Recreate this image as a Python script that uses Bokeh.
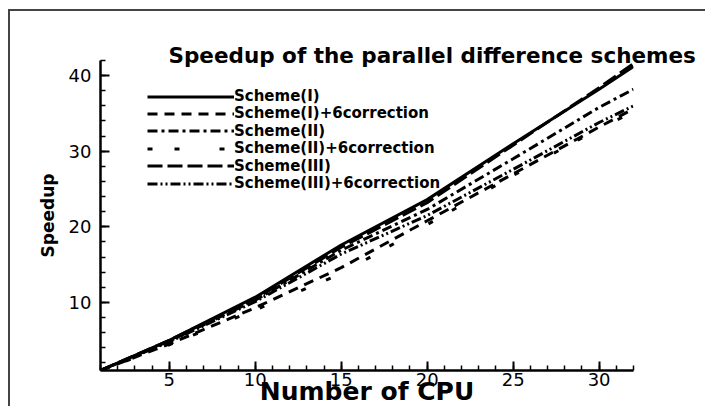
from bokeh.plotting import figure
from bokeh.models import (Range1d, Legend, LegendItem, FixedTicker)
from bokeh.embed import file_html
from bokeh.resources import INLINE

# ---- data ----
cpus = [1, 5, 10, 15, 20, 25, 30, 32]
scheme_I = [1, 5.0, 10.7, 17.6, 23.6, 31.0, 38.2, 41.2]
scheme_I_corr = [1, 4.5, 9.3, 14.6, 20.8, 27.0, 33.2, 35.6]
scheme_II = [1, 4.9, 10.3, 16.9, 22.3, 29.0, 35.8, 38.2]
scheme_II_corr = [1, 4.4, 9.0, 13.8, 20.3, 26.8, 33.0, 35.2]
scheme_III = [1, 5.0, 10.5, 17.3, 23.2, 30.8, 38.4, 41.6]
scheme_III_corr = [1, 4.8, 10.1, 16.4, 21.5, 27.6, 33.8, 36.0]

series_names = ["Scheme(I)", "Scheme(I)+6correction", "Scheme(II)",
                "Scheme(II)+6correction", "Scheme(III)", "Scheme(III)+6correction"]
series_values = [scheme_I, scheme_I_corr, scheme_II, scheme_II_corr,
                 scheme_III, scheme_III_corr]
dashes = ["solid", "10 7", "10 4 3 4", "5 22 5 40", "15 5", "10 3 2 3 2 3"]

x_ticks = [5, 10, 15, 20, 25, 30]
y_ticks = [10, 20, 30, 40]

p = figure(width=697, height=397, output_backend="svg", toolbar_location=None,
           x_range=Range1d(1, 32), y_range=Range1d(1, 42),
           min_border_left=90, min_border_right=74, min_border_top=49,
           min_border_bottom=30,
           title="Speedup of the parallel difference schemes")
p.styles = {"border-top": "2px solid #444", "border-left": "2px solid #444",
            "margin-top": "9px", "margin-left": "8px"}
p.outline_line_color = None
p.xgrid.grid_line_color = None
p.ygrid.grid_line_color = None
p.background_fill_color = "white"

p.title.text_font = "DejaVu Sans"
p.title.text_font_style = "bold"
p.title.text_font_size = "21.5px"
p.title.text_color = "black"
p.title.align = "left"
p.title.offset = 68
p.title.standoff = -15

renderers = []
for vals, dash in zip(series_values, dashes):
    r = p.line(cpus, vals, line_color="black", line_width=3, line_dash=dash)
    renderers.append(r)

# one single-row legend per series, rows ~17px apart
for i, (n, r) in enumerate(zip(series_names, renderers)):
    lg = Legend(items=[LegendItem(label=n, renderers=[r])],
                location=(47, 265 - 17.4 * i), glyph_width=87, glyph_height=15,
                label_height=15, spacing=0, padding=0, margin=0, label_standoff=0,
                border_line_color=None, background_fill_alpha=0,
                label_text_font="DejaVu Sans", label_text_font_style="bold",
                label_text_font_size="15px", label_text_color="black")
    p.add_layout(lg)

for ax in (p.xaxis[0], p.yaxis[0]):
    ax.axis_line_width = 2.5
    ax.axis_line_color = "black"
    ax.major_tick_in = 9
    ax.major_tick_out = 0
    ax.minor_tick_in = 5
    ax.minor_tick_out = 0
    ax.major_tick_line_width = 2
    ax.minor_tick_line_width = 1.5
    ax.major_tick_line_color = "black"
    ax.minor_tick_line_color = "black"
    ax.major_label_text_font = "DejaVu Sans"
    ax.major_label_text_font_size = "18px"
    ax.major_label_text_color = "black"
    ax.axis_label_text_font = "DejaVu Sans"
    ax.axis_label_text_font_style = "bold"
    ax.axis_label_text_color = "black"

p.xaxis.ticker = FixedTicker(ticks=x_ticks, minor_ticks=list(range(1, 33)))
p.yaxis.ticker = FixedTicker(ticks=y_ticks, minor_ticks=list(range(2, 43, 2)))
p.xaxis.axis_label = "Number of CPU"
p.xaxis.axis_label_text_font_size = "25px"
p.xaxis.major_label_standoff = 2
p.xaxis.axis_label_standoff = -12
p.yaxis.axis_label = "Speedup"
p.yaxis.axis_label_text_font_size = "17px"
p.yaxis.major_label_standoff = 9
p.yaxis.axis_label_standoff = 8

open("out.html", "w").write(file_html(p, INLINE))
